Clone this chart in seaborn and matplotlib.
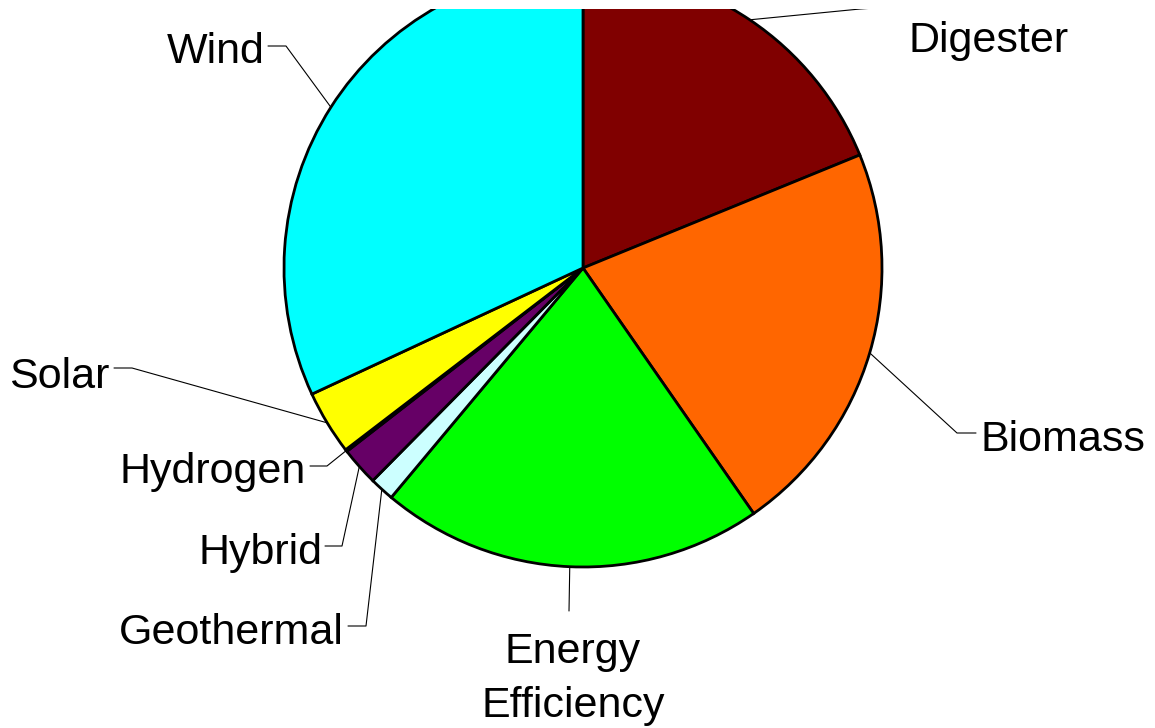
import numpy as np
import seaborn as sns
import matplotlib.pyplot as plt

sources = ["Digester", "Biomass", "Energy\nEfficiency", "Geothermal",
           "Hybrid", "Hydrogen", "Solar", "Wind"]
shares = [18.83, 21.5, 20.75, 1.33, 2.08, 0.11, 3.47, 31.93]
colors = ["#800000", "#FF6600", "#00FF00", "#CCFFFF",
          "#660066", "#FF8080", "#FFFF00", "#00FFFF"]

sns.set_theme(style="white")
plt.rcParams['font.family'] = ['Liberation Sans', 'DejaVu Sans']
plt.rcParams['text.color'] = 'black'

W, H = 1155, 728
CX, CY, R = 583, 268, 299  # pie centre / radius in pixels


def px(x, y):
    # pixel position -> data coords (radius 1)
    return (x - CX) / R, (CY - y) / R


fig = plt.figure(figsize=(W / 100, H / 100), dpi=100)
top = 9
ax = fig.add_axes([0, 0, 1, (H - top) / H])
ax.axis("off")

wedges, _ = ax.pie(shares, colors=colors, startangle=90, counterclock=False,
                   radius=1, wedgeprops=dict(edgecolor="black", linewidth=2.0))
ax.set_xlim(px(0, 0)[0], px(W, 0)[0])
ax.set_ylim(px(0, H)[1], px(0, top)[1])
ax.set_aspect("auto")
for w in wedges:
    w.set_clip_on(True)
    w.set_clip_box(ax.bbox)

# label layout: (elbow, end of leader, text pos, ha)
layout = {
    "Digester": ((860, 9), (905, 6), (908, 52), "left"),
    "Biomass": ((957, 433), (976, 433), (981, 451), "left"),
    "Energy\nEfficiency": ((569, 611), (569, 611), (573, 663), "center"),
    "Geothermal": ((366, 626), (348, 626), (344, 644), "right"),
    "Hybrid": ((342, 546), (325, 546), (322, 564), "right"),
    "Hydrogen": ((327, 466), (310, 466), (306, 483), "right"),
    "Solar": ((132, 368), (114, 368), (109, 388), "right"),
    "Wind": ((286, 46), (268, 46), (265, 63), "right"),
}

for w, name in zip(wedges, sources):
    mid = np.deg2rad((w.theta1 + w.theta2) / 2)
    sx, sy = np.cos(mid), np.sin(mid)
    elbow, end, tpos, ha = layout[name]
    ex, ey = px(*elbow)
    nx, ny = px(*end)
    ax.plot([sx, ex, nx], [sy, ey, ny], color="black", lw=0.8, zorder=0.5)
    tx, ty = px(*tpos)
    if "\n" in name:
        l1, l2 = name.split("\n")
        ax.text(tx, ty, l1, ha=ha, va="baseline", fontsize=31, color="black")
        ax.text(tx, px(0, 717)[1], l2, ha=ha, va="baseline", fontsize=31,
                color="black")
    else:
        ax.text(tx, ty, name, ha=ha, va="baseline", fontsize=31, color="black")

fig.savefig("out.png", dpi=100, facecolor="white")
